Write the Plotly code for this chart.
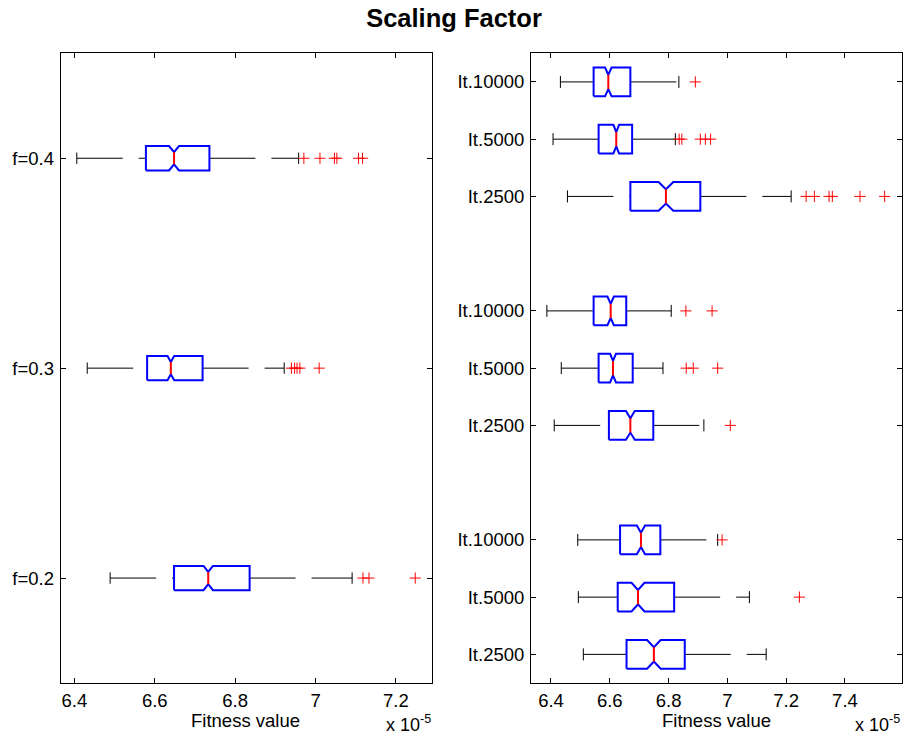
import plotly.graph_objects as go

# ---------------- data (values in units of 1e-5) ----------------
left_labels = ["f=0.2", "f=0.3", "f=0.4"]
left_lo = [6.489, 6.432, 6.406]
left_q1 = [6.648, 6.581, 6.578]
left_med = [6.733, 6.640, 6.648]
left_q3 = [6.836, 6.719, 6.736]
left_hi = [7.091, 6.922, 6.958]
left_notch = [0.0116, 0.0083, 0.0124]
left_out = [
    [7.118, 7.133, 7.248],
    [6.940, 6.948, 6.954, 6.961, 7.009],
    [6.971, 7.011, 7.047, 7.053, 7.107, 7.117],
]

# right panel: three groups (bottom -> top), each It.2500, It.5000, It.10000
right_labels = ["It.2500", "It.5000", "It.10000"] * 3
right_lo = [6.510, 6.493, 6.491, 6.411, 6.435, 6.386, 6.456, 6.407, 6.432]
right_q1 = [6.657, 6.627, 6.635, 6.597, 6.562, 6.545, 6.670, 6.562, 6.545]
right_med = [6.750, 6.696, 6.706, 6.670, 6.611, 6.603, 6.791, 6.622, 6.595]
right_q3 = [6.855, 6.819, 6.772, 6.748, 6.678, 6.656, 6.908, 6.676, 6.670]
right_hi = [7.132, 7.075, 6.967, 6.920, 6.781, 6.809, 7.217, 6.823, 6.835]
right_notch = [0.023, 0.022, 0.014, 0.015, 0.010, 0.011, 0.025, 0.0097, 0.011]
right_out = [
    [],
    [7.245],
    [6.982],
    [7.010],
    [6.860, 6.884, 6.967],
    [6.859, 6.948],
    [7.268, 7.296, 7.346, 7.357, 7.451, 7.535],
    [6.836, 6.845, 6.908, 6.925, 6.943],
    [6.891],
]

left_pos = [1, 2, 3]
right_pos = [g * 4 + k + 1 for g in range(3) for k in range(3)]

FONT = "Liberation Sans, Arial, sans-serif"
BLUE = "#0000ff"
RED = "#ff0000"
DASH = "46px,16px"

fig = go.Figure()


def add_boxes(pos, lo, q1, med, q3, hi, notch, outs, xa, ya, hw, cw):
    bx, by, mx, my, cx, cy, ox, oy = [], [], [], [], [], [], [], []
    for i, p in enumerate(pos):
        nlo, nhi = med[i] - notch[i], med[i] + notch[i]
        bx += [q1[i], nlo, med[i], nhi, q3[i], q3[i], nhi, med[i], nlo, q1[i], q1[i], None]
        by += [p - hw, p - hw, p - hw / 2, p - hw, p - hw, p + hw, p + hw, p + hw / 2,
               p + hw, p + hw, p - hw, None]
        mx += [med[i], med[i], None]
        my += [p - hw / 2, p + hw / 2, None]
        cx += [lo[i], lo[i], None, hi[i], hi[i], None]
        cy += [p - cw, p + cw, None, p - cw, p + cw, None]
        for (a, b) in ((lo[i], q1[i]), (q3[i], hi[i])):
            fig.add_trace(go.Scatter(x=[a, b], y=[p, p], mode="lines", xaxis=xa, yaxis=ya,
                                     line=dict(color="black", width=1, dash=DASH),
                                     hoverinfo="skip", showlegend=False))
        ox += outs[i]
        oy += [p] * len(outs[i])
    fig.add_trace(go.Scatter(x=cx, y=cy, mode="lines", xaxis=xa, yaxis=ya,
                             line=dict(color="black", width=1), showlegend=False))
    fig.add_trace(go.Scatter(x=bx, y=by, mode="lines", xaxis=xa, yaxis=ya,
                             line=dict(color=BLUE, width=2), showlegend=False))
    fig.add_trace(go.Scatter(x=mx, y=my, mode="lines", xaxis=xa, yaxis=ya,
                             line=dict(color=RED, width=2), showlegend=False))
    fig.add_trace(go.Scatter(x=ox, y=oy, mode="markers", xaxis=xa, yaxis=ya,
                             marker=dict(symbol="cross-thin", size=8, color=RED,
                                         line=dict(color=RED, width=1)),
                             showlegend=False))


add_boxes(left_pos, left_lo, left_q1, left_med, left_q3, left_hi, left_notch, left_out,
          "x", "y", 0.058, 0.027)
add_boxes(right_pos, right_lo, right_q1, right_med, right_q3, right_hi, right_notch, right_out,
          "x2", "y2", 0.25, 0.105)

W, H = 904, 738
ydom = [1 - 683 / H, 1 - 53.3 / H]
axcommon = dict(showline=True, linecolor="black", linewidth=1, mirror="ticks",
                ticks="inside", ticklen=5, tickcolor="black", showgrid=False,
                zeroline=False, tickfont=dict(family=FONT, size=18.5, color="black"))

fig.update_layout(
    width=W, height=H, margin=dict(l=0, r=0, t=0, b=0),
    paper_bgcolor="white", plot_bgcolor="white",
    font=dict(family=FONT, color="black"),
    xaxis=dict(domain=[60.7 / W, 431.7 / W], range=[6.366, 7.289],
               tickvals=[6.4, 6.6, 6.8, 7.0, 7.2], ticktext=["6.4", "6.6", "6.8", "7", "7.2"],
               anchor="y", ticklabelstandoff=1, **axcommon),
    yaxis=dict(domain=ydom, range=[0.5, 3.5], tickvals=left_pos, ticktext=left_labels,
               anchor="x", ticklabelstandoff=2, **axcommon),
    xaxis2=dict(domain=[531 / W, 901.7 / W], range=[6.332, 7.593],
                tickvals=[6.4, 6.6, 6.8, 7.0, 7.2, 7.4],
                ticktext=["6.4", "6.6", "6.8", "7", "7.2", "7.4"],
                anchor="y2", ticklabelstandoff=1, **axcommon),
    yaxis2=dict(domain=ydom, range=[0.5, 11.5], tickvals=right_pos, ticktext=right_labels,
                anchor="x2", ticklabelstandoff=2, **axcommon),
    title=dict(text="<b>Scaling Factor</b>", x=454 / W, xanchor="center",
               y=1 - 18 / H, yanchor="middle",
               font=dict(family=FONT, size=25.5, color="black")),
)

annots = [
    dict(x=246 / W, y=1 - 720 / H, text="Fitness value"),
    dict(x=716 / W, y=1 - 720 / H, text="Fitness value"),
]
for a in annots:
    fig.add_annotation(xref="paper", yref="paper", x=a["x"], y=a["y"], text=a["text"],
                       showarrow=False, xanchor="center", yanchor="middle",
                       font=dict(family=FONT, size=18.5, color="black"))
for xr in (433 / W, 902 / W):
    fig.add_annotation(xref="paper", yref="paper", x=xr, y=1 - 723 / H,
                       text="x 10<sup>-5</sup>", showarrow=False,
                       xanchor="right", yanchor="middle",
                       font=dict(family=FONT, size=18, color="black"))

fig.write_html("out.html")
